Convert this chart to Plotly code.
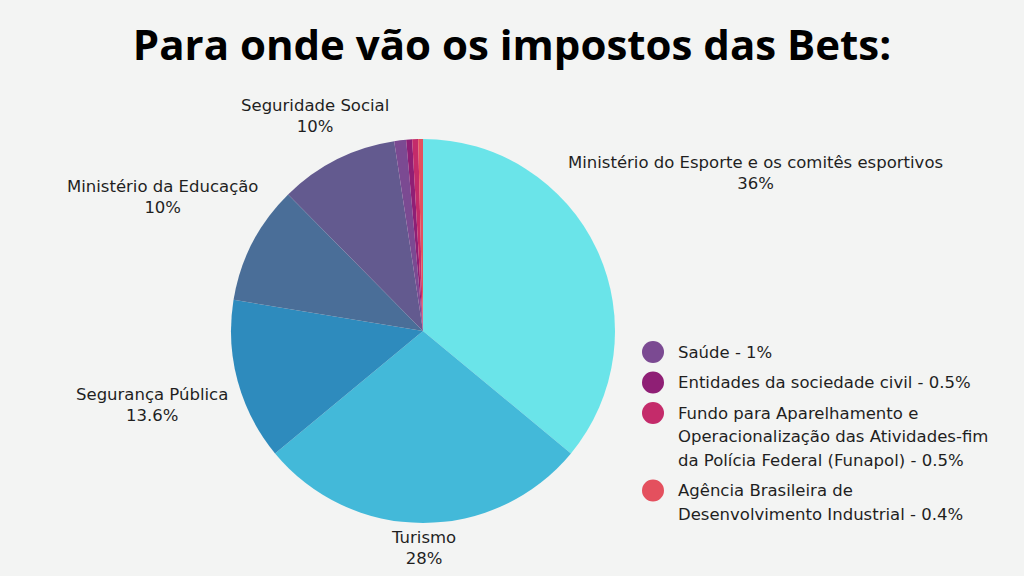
import plotly.graph_objects as go

# dados
setores = ["Ministério do Esporte e os comitês esportivos", "Turismo", "Segurança Pública",
           "Ministério da Educação", "Seguridade Social", "Saúde",
           "Entidades da sociedade civil",
           "Fundo para Aparelhamento e Operacionalização das Atividades-fim da Polícia Federal (Funapol)",
           "Agência Brasileira de Desenvolvimento Industrial"]
valores = [36, 28, 13.6, 10, 10, 1, 0.5, 0.5, 0.4]
cores = ["#6ae4e9", "#43b9d9", "#2e8bbd", "#4a6e98", "#635a8f",
         "#7b4a92", "#8f1f75", "#c42b6a", "#e4505e"]
# nomes quebrados em linhas para a legenda
nomes_legenda = [["Saúde"], ["Entidades da sociedade civil"],
                 ["Fundo para Aparelhamento e", "Operacionalização das Atividades-fim",
                  "da Polícia Federal (Funapol)"],
                 ["Agência Brasileira de", "Desenvolvimento Industrial"]]

W, H = 1024, 576
FONTE = "DejaVu Sans"
COR_TXT = "#1f1f1f"

fig = go.Figure()
fig.add_trace(go.Pie(
    labels=setores, values=valores, sort=False, direction="clockwise", rotation=0,
    marker=dict(colors=cores, line=dict(width=0)),
    textinfo="none", hoverinfo="label+percent", showlegend=False,
    domain=dict(x=[231 / W, 615 / W], y=[1 - 523 / H, 1 - 139 / H]),
))

def px(x, y):
    return x / W, 1 - y / H

annots = []
# rótulos externos das fatias grandes (posições de layout)
pos_rotulos = [(755, 173), (423, 548), (152, 405), (162, 197), (315, 116)]
for i, (x, y) in enumerate(pos_rotulos):
    xx, yy = px(x, y)
    annots.append(dict(x=xx, y=yy, xref="paper", yref="paper", xanchor="center",
                       yanchor="middle", showarrow=False, align="center",
                       text=f"{setores[i]}<br>{valores[i]:g}%",
                       font=dict(family=FONTE, size=16.5, color=COR_TXT)))

# legenda manual das fatias pequenas
shapes = []
y0 = 352
passo_linha = 23.5
for k, linhas in enumerate(nomes_legenda):
    i = 5 + k
    cx, cy = 653, y0
    shapes.append(dict(type="circle", xref="paper", yref="paper",
                       x0=(cx - 11) / W, x1=(cx + 11) / W,
                       y0=1 - (cy + 11) / H, y1=1 - (cy - 11) / H,
                       fillcolor=cores[i], line=dict(width=0)))
    linhas = list(linhas)
    linhas[-1] = linhas[-1] + f" - {valores[i]:g}%"
    for j, t in enumerate(linhas):
        xx, yy = px(676, y0 + j * passo_linha)
        annots.append(dict(x=xx, y=yy, xref="paper", yref="paper", xanchor="left",
                           yanchor="middle", showarrow=False, text=t,
                           font=dict(family=FONTE, size=16.5, color=COR_TXT)))
    y0 += len(linhas) * passo_linha + 7

fig.update_layout(
    width=W, height=H,
    margin=dict(l=0, r=0, t=0, b=0),
    paper_bgcolor="#f3f4f3", plot_bgcolor="#f3f4f3",
    title=dict(text="<b>Para onde vão os impostos das Bets:</b>", x=0.5, xanchor="center",
               y=1 - 45 / H, yanchor="middle",
               font=dict(family="Open Sans", size=42, color="#000000")),
    annotations=annots, shapes=shapes,
)

fig.write_html("out.html", config={"displayModeBar": False},
               post_script="document.body.style.margin='0';")
